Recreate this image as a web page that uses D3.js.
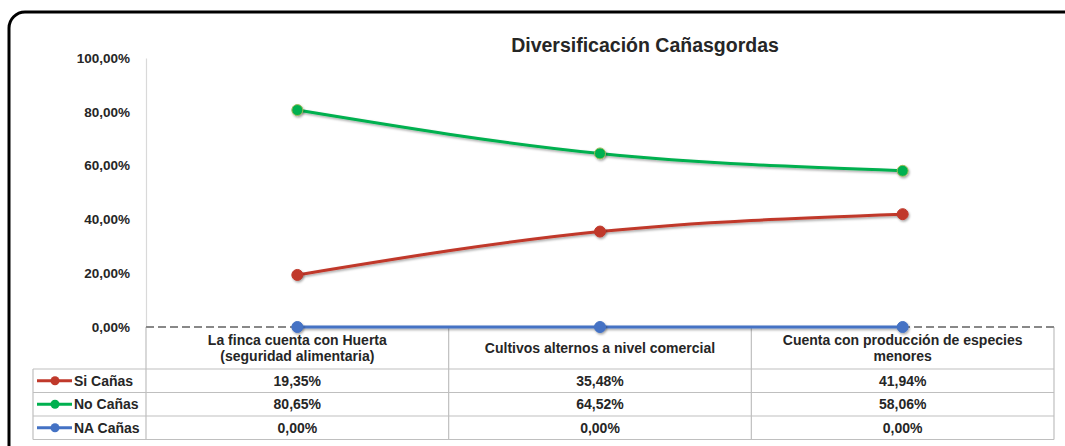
<!DOCTYPE html>
<html>
<head>
<meta charset="utf-8">
<script src="https://cdn.jsdelivr.net/npm/d3@7"></script>
<style>
  body { margin: 0; background: #fff; }
  svg text { font-family: "Liberation Sans", Arial, sans-serif; font-weight: bold; fill: #262626; }
</style>
</head>
<body>
<svg width="1065" height="446"></svg>
<script>
var categories = [
  ["La finca cuenta con Huerta", "(seguridad alimentaria)"],
  ["Cultivos alternos a nivel comercial"],
  ["Cuenta con producción de especies", "menores"]
];
var seriesNames = ["Si Cañas", "No Cañas", "NA Cañas"];
var siCanas = [19.35, 35.48, 41.94];
var noCanas = [80.65, 64.52, 58.06];
var naCanas = [0, 0, 0];
var yTicks = [0, 20, 40, 60, 80, 100];
var colors = ["#c0392b", "#00b04f", "#4472c4"];
var markerStroke = ["#c0392b", "#9bbb59", "#4472c4"];

var allSeries = [siCanas, noCanas, naCanas];

var svg = d3.select("svg"),
	width = +svg.attr("width"),
	height = +svg.attr("height");

var fmt = function(v) { return v.toFixed(2).replace(".", ",") + "%"; };

// outer frame
svg.append("rect")
	.attr("x", 9).attr("y", 12)
	.attr("width", 1075).attr("height", 450)
	.attr("rx", 16)
	.attr("fill", "none")
	.attr("stroke", "#000")
	.attr("stroke-width", 3);

var defs = svg.append("defs");
var shadow = defs.append("filter").attr("id", "shadow")
	.attr("filterUnits", "userSpaceOnUse")
	.attr("x", 0).attr("y", 0).attr("width", width).attr("height", height);
shadow.append("feDropShadow")
	.attr("dx", 1).attr("dy", 1.5).attr("stdDeviation", 1)
	.attr("flood-color", "#000").attr("flood-opacity", 0.35);

var x = d3.scaleBand()
	.domain(d3.range(categories.length))
	.range([146, 1054]);

var y = d3.scaleLinear()
	.domain([0, 100])
	.range([327, 58]);

// title
svg.append("text")
	.attr("x", 645).attr("y", 52)
	.attr("text-anchor", "middle")
	.style("font-size", "19.5px")
	.text("Diversificación Cañasgordas");

// y axis
var yAxis = d3.axisLeft(y)
	.tickValues(yTicks)
	.tickSize(0)
	.tickPadding(16)
	.tickFormat(fmt);

var gy = svg.append("g")
	.attr("transform", "translate(146,0)")
	.call(yAxis);
gy.select(".domain").attr("stroke", "#d9d9d9").attr("stroke-width", 1.2);
gy.selectAll("text")
	.style("font-size", "13.5px")
	.style("font-family", "'Liberation Sans', Arial, sans-serif")
	.attr("fill", "#262626");

// table grid
var rowTops = [327, 369, 392.5, 416, 439.5];
var tableG = svg.append("g").attr("stroke", "#bfbfbf").attr("stroke-width", 1.2);

rowTops.slice(1).forEach(function(ry) {
	tableG.append("line").attr("x1", 33).attr("x2", 1054).attr("y1", ry).attr("y2", ry);
});
tableG.append("line").attr("x1", 33).attr("x2", 33).attr("y1", 369).attr("y2", 439.5);
var bounds = [146].concat(categories.map(function(d, i) { return x(i) + x.bandwidth(); }));
bounds.forEach(function(bx) {
	tableG.append("line")
		.attr("x1", bx).attr("x2", bx)
		.attr("y1", 327).attr("y2", 439.5);
});

// category labels
categories.forEach(function(lines, i) {
	var cx = x(i) + x.bandwidth() / 2;
	var startY = lines.length === 2 ? 345 : 353;
	lines.forEach(function(t, j) {
		svg.append("text")
			.attr("x", cx).attr("y", startY + j * 16)
			.attr("text-anchor", "middle")
			.style("font-size", "14px")
			.text(t);
	});
});

// data rows
allSeries.forEach(function(vals, s) {
	var top = rowTops[s + 1], bot = rowTops[s + 2];
	var my = (top + bot) / 2 + 5;
	svg.append("line")
		.attr("x1", 37).attr("x2", 72)
		.attr("y1", my - 5).attr("y2", my - 5)
		.attr("stroke", colors[s]).attr("stroke-width", 3);
	svg.append("circle")
		.attr("cx", 55).attr("cy", my - 5).attr("r", 4.5)
		.attr("fill", colors[s]);
	svg.append("text")
		.attr("x", 74).attr("y", my)
		.style("font-size", "14px")
		.text(seriesNames[s]);
	vals.forEach(function(v, i) {
		svg.append("text")
			.attr("x", x(i) + x.bandwidth() / 2).attr("y", my)
			.attr("text-anchor", "middle")
			.style("font-size", "14px")
			.text(fmt(v));
	});
});

// zero line (dashed)
svg.append("line")
	.attr("x1", 146).attr("x2", 1054)
	.attr("y1", y(0)).attr("y2", y(0))
	.attr("stroke", "#888")
	.attr("stroke-width", 1.8)
	.attr("stroke-dasharray", "8,4");

// series lines
var line = d3.line()
	.x(function(d, i) { return x(i) + x.bandwidth() / 2; })
	.y(function(d) { return y(d); })
	.curve(d3.curveMonotoneX);

allSeries.forEach(function(vals, s) {
	svg.append("path")
		.datum(vals)
		.attr("d", line)
		.attr("fill", "none")
		.attr("stroke", colors[s])
		.attr("stroke-width", 3)
		.attr("filter", "url(#shadow)");
	svg.selectAll(".m" + s)
		.data(vals).enter().append("circle")
		.attr("class", "m" + s)
		.attr("cx", function(d, i) { return x(i) + x.bandwidth() / 2; })
		.attr("cy", function(d) { return y(d); })
		.attr("r", 5.5)
		.attr("fill", colors[s])
		.attr("stroke", markerStroke[s])
		.attr("stroke-width", 1)
		.attr("filter", "url(#shadow)");
});
</script>
</body>
</html>
